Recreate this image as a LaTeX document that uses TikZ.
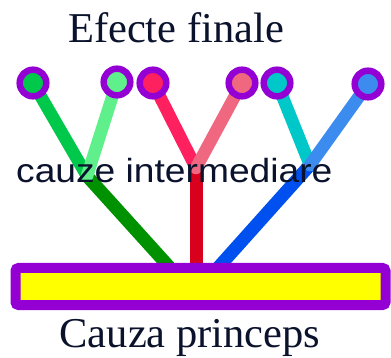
\documentclass[tikz,border=0pt]{standalone}
\usepackage{fontspec}
\setmainfont{Liberation Serif}
\newfontfamily\arialfont{Liberation Sans}
\definecolor{violetc}{RGB}{148,0,211}
\definecolor{yellowc}{RGB}{255,255,0}
\definecolor{gA}{RGB}{0,200,75}
\definecolor{gB}{RGB}{95,240,140}
\definecolor{gC}{RGB}{0,145,0}
\definecolor{rA}{RGB}{255,32,96}
\definecolor{rB}{RGB}{240,104,128}
\definecolor{rC}{RGB}{216,0,28}
\definecolor{bA}{RGB}{0,200,200}
\definecolor{bB}{RGB}{60,140,240}
\definecolor{bC}{RGB}{0,80,240}
\definecolor{txt}{RGB}{10,18,44}
\begin{document}
\begin{tikzpicture}[x=1pt,y=-1pt,
  branch/.style={line width=12.5pt,line cap=round},
  trunk/.style={line width=13pt,line cap=butt},
  leaf/.style={circle,draw=violetc,line width=6.5pt,minimum size=26.6pt,inner sep=0pt},
  title/.style={font=\fontsize{42.5}{42.5}\selectfont,text=txt,inner sep=0pt,anchor=base}]
\useasboundingbox (0,0) rectangle (391,358);
% positions
\coordinate (p1) at (33,83);
\coordinate (p2) at (117,82);
\coordinate (p3) at (153,83);
\coordinate (p4) at (242,83);
\coordinate (p5) at (277,83);
\coordinate (p6) at (368,84);
\coordinate (m1) at (87,176);
\coordinate (m2) at (196,168);
\coordinate (m3) at (310,165);
\coordinate (b1) at (172,270);
\coordinate (b2) at (196,270);
\coordinate (b3) at (216,270);
% lower trunks
\draw[trunk,gC] (m1) -- (b1);
\draw[trunk,rC] (m2) -- (b2);
\draw[trunk,bC] (m3) -- (b3);
% branches
\draw[branch,gA] (p1) -- (m1);
\draw[branch,gB] (p2) -- (m1);
\draw[branch,rA] (p3) -- (m2);
\draw[branch,rB] (p4) -- (m2);
\draw[branch,bA] (p5) -- (m3);
\draw[branch,bB] (p6) -- (m3);
% leaves
\node[leaf,fill=gA] (c1) at (p1) {};
\node[leaf,fill=gB] (c2) at (p2) {};
\node[leaf,fill=rA] (c3) at (p3) {};
\node[leaf,fill=rB] (c4) at (p4) {};
\node[leaf,fill=bA] (c5) at (p5) {};
\node[leaf,fill=bB] (c6) at (p6) {};
% base
\draw[violetc,line width=10pt,fill=yellowc,rounded corners=3pt] (15.5,268) rectangle (385.5,305);
\node[draw=none,inner sep=0pt,minimum width=370pt,minimum height=37pt] (base) at (200.5,286.5) {};
% texts
\node[title] (top) at (176,43) {Efecte finale};
\node[inner sep=0pt,anchor=base west,text=txt] (mid) at (16,183) {\scalebox{1.11}[1]{\arialfont\fontsize{33.5}{33.5}\selectfont cauze intermediare}};
\node[title] (bot) at (190,347) {Cauza princeps};
\end{tikzpicture}
\end{document}
